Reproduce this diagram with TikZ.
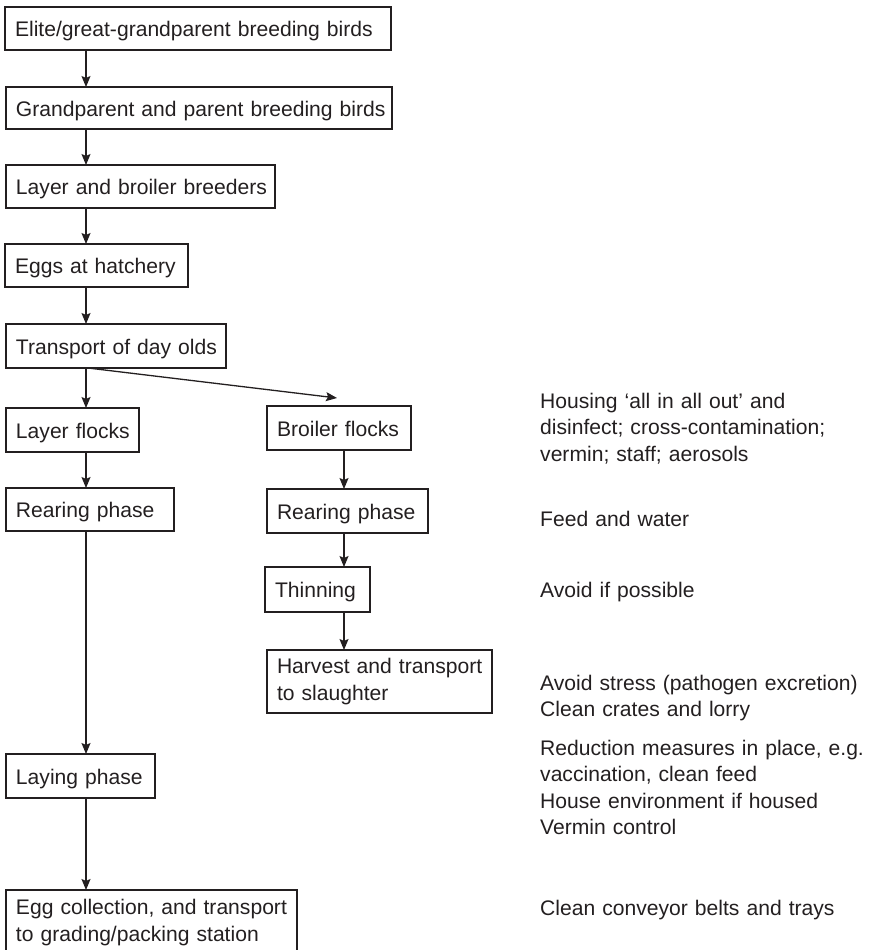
\documentclass[tikz,border=0pt]{standalone}
\usepackage{fontspec}
\setmainfont{Liberation Sans}
\usetikzlibrary{arrows.meta}
\definecolor{ink}{RGB}{35,31,32}
\begin{document}
\begin{tikzpicture}[x=1pt,y=-1pt,
  every node/.style={text=ink, font=\fontsize{21.1}{26.6}\selectfont},
  stage/.style={draw=ink, line width=1.4pt, anchor=north west, inner xsep=10pt,
    inner ysep=0pt, outer sep=0pt, align=left},
  oneline/.style={text height=16pt, text depth=0pt, minimum height=#1},
  flow/.style={draw=ink, line width=1.3pt, -{Stealth[length=11pt,width=9pt,inset=2pt]}},
  note/.style={anchor=base west, inner sep=0pt, align=left, text width=330pt}]
\useasboundingbox (0,0) rectangle (870,950);

% arrow columns
\coordinate (colL) at (86,0);
\coordinate (colR) at (344,0);
\coordinate (fork) at (88,0);
\coordinate (broilerin) at (337,398);

% breeding chain
\node[stage, oneline=43pt, text width=366pt] (elite) at (5,7) {\mbox{Elite/great-grandparent breeding birds}};
\node[stage, oneline=42pt, text width=366pt] (grand) at (6,87) {\mbox{Grandparent and parent breeding birds}};
\node[stage, oneline=43pt, text width=249pt] (breeders) at (6,165) {\mbox{Layer and broiler breeders}};
\node[stage, oneline=43pt, text width=163pt] (hatchery) at (5,244) {\mbox{Eggs at hatchery}};
\node[stage, oneline=44pt, text width=200pt] (transport) at (6,324) {\mbox{Transport of day olds}};

% layer branch
\node[stage, oneline=44pt, text width=113pt] (layer) at (6,408) {\mbox{Layer flocks}};
\node[stage, oneline=43pt, text width=148pt] (rearL) at (6,488) {\mbox{Rearing phase}};
\node[stage, oneline=44pt, text width=129pt] (laying) at (6,754) {\mbox{Laying phase}};
\node[stage, minimum height=65pt, text width=271pt] (eggs) at (6,890)
  {\mbox{Egg collection, and transport}\\\mbox{to grading/packing station}};

% broiler branch
\node[stage, oneline=44pt, text width=124pt] (broiler) at (267,406) {\mbox{Broiler flocks}};
\node[stage, oneline=44pt, text width=141pt] (rearB) at (267,489) {\mbox{Rearing phase}};
\node[stage, oneline=45pt, text width=85pt] (thin) at (265,567) {\mbox{Thinning}};
\node[stage, minimum height=63pt, text width=205pt] (harvest) at (267,650)
  {\mbox{Harvest and transport}\\\mbox{to slaughter}};

% connectors
\draw[flow] (colL |- elite.south) -- (colL |- grand.north);
\draw[flow] (colL |- grand.south) -- (colL |- breeders.north);
\draw[flow] (colL |- breeders.south) -- (colL |- hatchery.north);
\draw[flow] (colL |- hatchery.south) -- (colL |- transport.north);
\draw[flow] (colL |- transport.south) -- (colL |- layer.north);
\draw[flow] (fork |- transport.south) -- (broilerin);
\draw[flow] (colL |- layer.south) -- (colL |- rearL.north);
\draw[flow] (colL |- rearL.south) -- (colL |- laying.north);
\draw[flow] (colL |- laying.south) -- (colL |- eggs.north);
\draw[flow] (colR |- broiler.south) -- (colR |- rearB.north);
\draw[flow] (colR |- rearB.south) -- (colR |- thin.north);
\draw[flow] (colR |- thin.south) -- (colR |- harvest.north);

% control measures
\node[note] (n1) at (540,408) {Housing ‘all in all out’ and\\disinfect; cross-contamination;\\vermin; staff; aerosols};
\node[note] (n2) at (540,526) {Feed and water};
\node[note] (n3) at (540,597) {Avoid if possible};
\node[note] (n4) at (540,690) {Avoid stress (pathogen excretion)\\Clean crates and lorry};
\node[note] (n5) at (540,755) {Reduction measures in place, e.g.\\vaccination, clean feed\\House environment if housed\\Vermin control};
\node[note] (n6) at (540,915) {Clean conveyor belts and trays};
\end{tikzpicture}
\end{document}
